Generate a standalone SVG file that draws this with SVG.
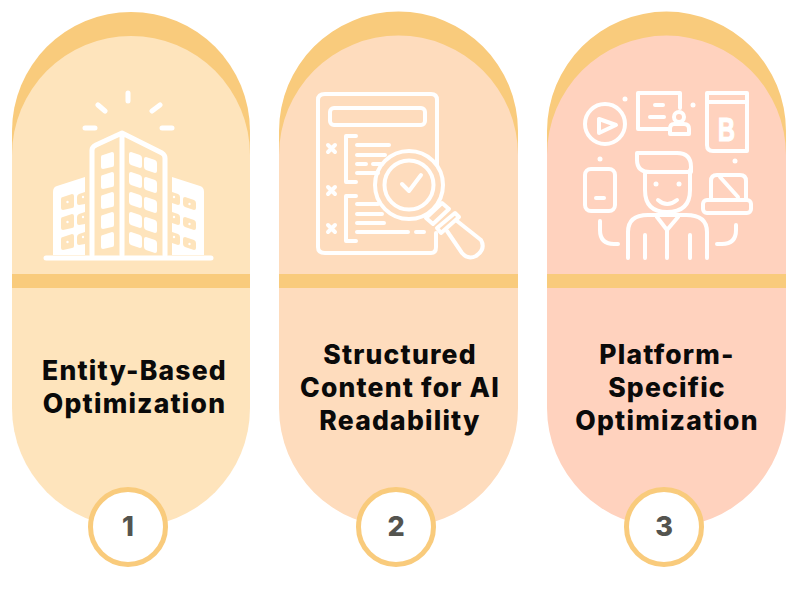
<svg xmlns="http://www.w3.org/2000/svg" width="800" height="600" viewBox="0 0 800 600">
<style>
.o{fill:#f9cb7c}
.i{fill:none;stroke:#fff;stroke-width:4;stroke-linecap:round;stroke-linejoin:round}
.w{fill:#fff}
.t{font-family:"Inter","Liberation Sans",sans-serif;font-weight:800;font-size:26.5px;text-anchor:middle;fill:#0a0a0a;letter-spacing:1.2px}
.n{font-family:"Inter","Liberation Sans",sans-serif;font-weight:800;font-size:27px;text-anchor:middle;fill:#54544f}
.c{fill:#fff;stroke:#f9cb7c;stroke-width:5}
</style>
<rect width="800" height="600" fill="#fff"/>
<g id="node-1">
<path class="o" d="M12,131A119,119 0 0 1 250,131V160H12Z"/>
<path fill="#fee4bc" d="M12,155A119,119 0 0 1 250,155V408A119,119 0 0 1 12,408Z"/>
<rect class="o" x="12" y="274" width="238" height="14"/>
<g class="i" style="stroke-width:5">
<path d="M128,93V101M98,105L105,111M160,105L152,111M85,128H95M162,128H172M46,258H211"/>
<path d="M92,255V150Q92,147 96,145L122,133L162,153Q165,155 165,158V255M122,135V255" />
</g>
<g class="w">
<path d="M103,155L112,152Q114,152 114,154V165Q114,167 112,167L103,169Q101,169 101,167V157Q101,155 103,155Z" id="wl"/>
<use href="#wl" y="20"/><use href="#wl" y="40"/><use href="#wl" y="60"/><use href="#wl" y="80"/>
<path d="M131,152L140,155Q142,156 142,158V166Q142,168 140,168L131,165Q129,164 129,162V154Q129,152 131,152Z" id="wr"/>
<use href="#wr" y="20"/><use href="#wr" y="40"/><use href="#wr" y="60"/><use href="#wr" y="80"/>
<use href="#wr" x="15" y="5"/><use href="#wr" x="15" y="25"/><use href="#wr" x="15" y="45"/><use href="#wr" x="15" y="65"/><use href="#wr" x="15" y="85"/>
<path d="M85,177L57,186Q53,187 53,192V255H85Z"/>
<path d="M172,177L200,186Q204,187 204,192V255H172Z"/>
</g>
<g fill="#fee4bc">
<path d="M63,197L72,194Q74,194 74,196V206Q74,208 72,208L63,210Q61,210 61,208V199Q61,197 63,197Z" id="bl"/>
<use href="#bl" y="20"/><use href="#bl" y="40"/>
<path d="M79,194L85,192V204L79,205Q77,205 77,203V197Q77,195 79,194Z" id="bl2"/>
<use href="#bl2" y="20"/><use href="#bl2" y="40"/>
<path d="M185,197L194,200Q196,201 196,203V208Q196,210 194,210L185,207Q183,206 183,204V199Q183,197 185,197Z" id="br"/>
<use href="#br" y="20"/><use href="#br" y="40"/>
<path d="M172,192L178,194Q180,195 180,197V203Q180,205 178,205L172,203Z" id="br2"/>
<use href="#br2" y="20"/><use href="#br2" y="40"/>
</g>
<g class="w">
<circle cx="67.500" cy="202" r="1.200"/><circle cx="67.500" cy="222" r="1.200"/><circle cx="67.500" cy="242" r="1.200"/>
<circle cx="83" cy="197" r="1.200"/><circle cx="83" cy="217" r="1.200"/><circle cx="83" cy="237" r="1.200"/>
<circle cx="189.500" cy="204" r="1.200"/><circle cx="189.500" cy="224" r="1.200"/><circle cx="189.500" cy="244" r="1.200"/>
<circle cx="174" cy="197" r="1.200"/><circle cx="174" cy="217" r="1.200"/><circle cx="174" cy="237" r="1.200"/>
</g>
<text class="t" x="134.500" y="380">Entity-Based</text>
<text class="t" x="134.500" y="413">Optimization</text>
<circle class="c" cx="128" cy="527" r="37.500"/>
<text class="n" x="128" y="536">1</text>
</g>
<g id="node-2">
<path class="o" d="M279,131A119.500,119.500 0 0 1 518,131V160H279Z"/>
<path fill="#fedcbd" d="M279,155A119.500,119.500 0 0 1 518,155V408A119.500,119.500 0 0 1 279,408Z"/>
<rect class="o" x="279" y="274" width="239" height="14"/>
<g class="i">
<path d="M437,165V100Q437,94 431,94H325Q318,94 318,100V247Q318,253 325,253H431Q436,253 436,247V233"/>
<rect x="330" y="108" width="95" height="17" rx="4"/>
<path d="M328,145L335,152M335,145L328,152M328,187L335,194M335,187L328,194M328,225L335,232M335,225L328,232"/>
<path d="M356,136H346V182H356M356,196H346V241H356"/>
<path d="M357,145H389M357,155H385M357,164H366M373,164H382M357,173H378M357,204H378M357,214H382M357,223H384M357,232H408M416,232H424"/>
<circle cx="409" cy="185" r="34"/>
<circle cx="409" cy="185" r="24.500"/>
<path d="M402,184L409,191L421,175"/>
<path d="M426,218L442,203L449,209L433,224ZM437,228L455,213L459,217L441,233Z"/>
<path d="M447,231L462,253Q468,260 476,256Q486,249 481,240L457,221"/>
</g>
<text class="t" x="400" y="364">Structured</text>
<text class="t" x="400" y="397">Content for AI</text>
<text class="t" x="400" y="430">Readability</text>
<circle class="c" cx="396" cy="527" r="37.500"/>
<text class="n" x="396" y="536">2</text>
</g>
<g id="node-3">
<path class="o" d="M547,131A119.500,119.500 0 0 1 786,131V160H547Z"/>
<path fill="#ffd2be" d="M547,155A119.500,119.500 0 0 1 786,155V408A119.500,119.500 0 0 1 547,408Z"/>
<rect class="o" x="547" y="274" width="239" height="14"/>
<g class="i">
<circle cx="605" cy="124" r="20"/>
<path d="M599,119V133L616,125Z"/>
<path d="M668,129H638V93H680V108M655,105H663M650,117H664"/>
<circle cx="679" cy="117" r="5"/>
<path d="M670,134H689V129Q689,124 684,124H674Q670,124 670,129Z"/>
<path d="M707,93H747V151H713Q707,151 707,145ZM707,102H747"/>
<rect x="585" y="169" width="30" height="42" rx="6"/>
<path d="M596,198H604"/>
<path d="M711,200V181Q711,175 717,175H740Q746,175 746,181V200M720,177L738,197"/>
<rect x="703" y="200" width="48" height="13" rx="4"/>
<path d="M637,153H677Q691,153 691,167V172H650Q637,172 637,160ZM645,172V190Q645,212 667,212Q690,212 690,190V170"/>
<path d="M658,200Q667,208 677,200"/>
<path d="M628,258V232Q628,215 648,215H686Q707,215 707,232V258M645,235V258M690,235V258M667,230V258M657,217L667,230L678,217"/>
<path d="M600,221V230Q600,244 614,244H618M736,225V230Q736,244 722,244H717"/>
</g>
<g class="w">
<circle cx="625" cy="99" r="2.500"/><circle cx="693" cy="105" r="2.500"/><circle cx="600" cy="159" r="2.500"/><circle cx="735" cy="161" r="2.500"/><circle cx="656" cy="184" r="2.500"/><circle cx="679" cy="184" r="2.500"/>
</g>
<text x="718" y="141" font-family="Liberation Sans, sans-serif" font-weight="700" font-size="34" textLength="17" lengthAdjust="spacingAndGlyphs" fill="#fff" stroke="#fff" stroke-width="1.200">B</text>
<text class="t" x="667" y="364">Platform-</text>
<text class="t" x="667" y="397">Specific</text>
<text class="t" x="667" y="430">Optimization</text>
<circle class="c" cx="664" cy="527" r="37.500"/>
<text class="n" x="664" y="536">3</text>
</g>
</svg>
